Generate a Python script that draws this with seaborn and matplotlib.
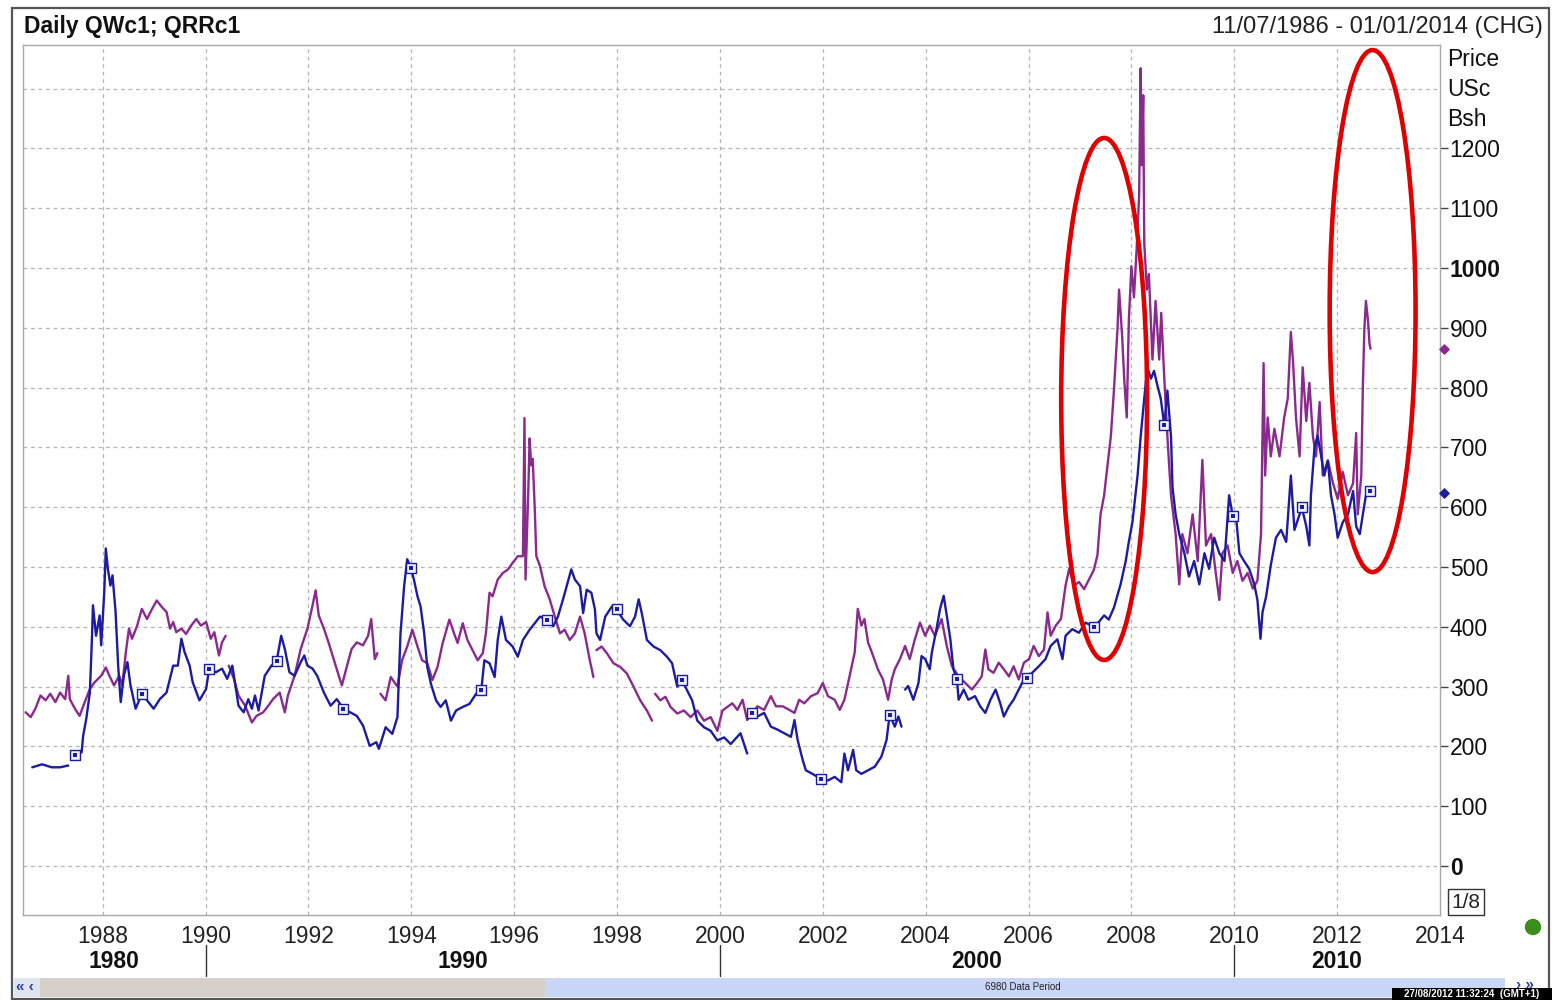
import matplotlib

matplotlib.use("Agg")

import matplotlib.pyplot as plt
import numpy as np
import pandas as pd
import seaborn as sns
from matplotlib.patches import Ellipse, Rectangle
from matplotlib.transforms import blended_transform_factory

# --- data (decimal years, US cents per bushel); None marks a gap
wheat_year = [
    1986.50, 1986.60, 1986.69, 1986.79, 1986.89, 1986.98, 1987.08, 1987.17, 1987.27, 1987.33,
    1987.36, 1987.46, 1987.55, 1987.65, 1987.75, 1987.84, 1987.97, 1988.06, 1988.13, 1988.22,
    1988.32, 1988.38, 1988.45, 1988.51, 1988.57, 1988.67, 1988.76, 1988.86, 1988.96, 1989.05,
    1989.15, 1989.24, 1989.31, 1989.37, 1989.43, 1989.53, 1989.62, 1989.72, 1989.82, 1989.91,
    1990.01, 1990.10, 1990.17, 1990.26, 1990.32, 1990.39, None, 1990.45, 1990.55, 1990.64,
    1990.77, 1990.90, 1990.99, 1991.12, 1991.22, 1991.31, 1991.44, 1991.54, 1991.60, 1991.73,
    1991.85, 1991.98, 1992.08, 1992.14, 1992.20, 1992.30, 1992.39, 1992.49, 1992.59, 1992.65,
    1992.75, 1992.84, 1992.94, 1993.06, 1993.16, 1993.22, 1993.29, 1993.34, None, 1993.40,
    1993.50, 1993.60, 1993.73, 1993.82, 1993.92, 1994.02, 1994.12, 1994.21, 1994.31, 1994.41,
    1994.51, 1994.61, 1994.74, 1994.83, 1994.90, 1995.00, 1995.09, 1995.19, 1995.29, 1995.39,
    1995.45, 1995.52, 1995.58, 1995.68, 1995.78, 1995.88, 1995.97, 1996.07, 1996.17, 1996.20,
    1996.22, 1996.27, 1996.30, 1996.33, 1996.36, 1996.40, 1996.43, 1996.50, 1996.59, 1996.69,
    1996.79, 1996.89, 1996.98, 1997.08, 1997.18, 1997.28, 1997.37, 1997.47, 1997.54, None,
    1997.60, 1997.70, 1997.80, 1997.93, 1998.06, 1998.19, 1998.32, 1998.45, 1998.58, 1998.68,
    None, 1998.74, 1998.84, 1998.94, 1999.04, 1999.17, 1999.30, 1999.43, 1999.56, 1999.69,
    1999.82, 1999.95, 2000.05, 2000.24, 2000.34, 2000.44, 2000.53, 2000.63, 2000.73, 2000.86,
    2000.99, 2001.09, 2001.22, 2001.35, 2001.45, 2001.54, 2001.64, 2001.77, 2001.90, 2002.00,
    2002.10, 2002.23, 2002.33, 2002.42, 2002.52, 2002.62, 2002.68, 2002.75, 2002.81, 2002.88,
    2002.98, 2003.07, 2003.17, 2003.27, 2003.34, 2003.40, 2003.50, 2003.60, 2003.69, 2003.79,
    2003.89, 2003.99, 2004.08, 2004.18, 2004.31, 2004.41, 2004.51, 2004.64, 2004.77, 2004.90,
    2005.00, 2005.09, 2005.16, 2005.22, 2005.32, 2005.42, 2005.52, 2005.62, 2005.71, 2005.81,
    2005.91, 2006.01, 2006.10, 2006.20, 2006.30, 2006.37, 2006.43, 2006.53, 2006.63, 2006.72,
    2006.79, 2006.89, 2006.98, 2007.08, 2007.18, 2007.27, 2007.34, 2007.40, 2007.47, 2007.53,
    2007.60, 2007.66, 2007.73, 2007.76, 2007.82, 2007.86, 2007.91, 2007.95, 2008.00, 2008.05,
    2008.10, 2008.15, 2008.18, 2008.20, 2008.23, 2008.25, 2008.30, 2008.34, 2008.41, 2008.47,
    2008.54, 2008.58, 2008.64, 2008.70, 2008.77, 2008.86, 2008.93, 2008.99, 2009.09, 2009.19,
    2009.29, 2009.38, 2009.45, 2009.55, 2009.64, 2009.71, 2009.77, 2009.87, 2009.97, 2010.06,
    2010.16, 2010.26, 2010.36, 2010.45, 2010.52, 2010.57, 2010.60, 2010.65, 2010.71, 2010.78,
    2010.88, 2010.97, 2011.04, 2011.10, 2011.14, 2011.20, 2011.27, 2011.33, 2011.40, 2011.46,
    2011.53, 2011.59, 2011.66, 2011.72, 2011.82, 2011.92, 2012.01, 2012.11, 2012.21, 2012.31,
    2012.37, 2012.40, 2012.47, 2012.50, 2012.53, 2012.56, 2012.60, 2012.63, 2012.65,
]
wheat_price = [
    257, 249, 263, 285, 277, 288, 274, 290, 279, 318,
    279, 263, 251, 274, 296, 307, 318, 332, 318, 302,
    318, 302, 358, 397, 380, 402, 430, 413, 430, 444,
    433, 425, 397, 408, 391, 397, 388, 402, 413, 402,
    408, 380, 391, 352, 374, 385, None, 335, 313, 285,
    268, 240, 251, 257, 268, 279, 290, 257, 285, 318,
    363, 397, 436, 461, 419, 397, 374, 346, 318, 302,
    335, 363, 374, 369, 385, 413, 346, 356, None, 288,
    277, 316, 300, 344, 367, 395, 367, 344, 339, 311,
    333, 373, 412, 389, 373, 406, 378, 361, 344, 356,
    389, 457, 451, 479, 490, 496, 507, 518, 518, 749,
    479, 614, 715, 670, 681, 597, 518, 502, 468, 446,
    417, 389, 395, 378, 389, 417, 389, 344, 316, None,
    361, 367, 356, 339, 333, 322, 300, 277, 260, 243,
    None, 288, 277, 283, 266, 255, 260, 249, 260, 243,
    249, 226, 260, 272, 261, 278, 244, 256, 267, 261,
    284, 267, 267, 261, 256, 278, 272, 284, 289, 306,
    284, 278, 261, 278, 317, 357, 430, 402, 413, 374,
    351, 329, 312, 278, 312, 329, 346, 368, 346, 379,
    407, 385, 402, 385, 413, 368, 334, 317, 306, 295,
    306, 317, 362, 329, 323, 340, 329, 317, 334, 312,
    340, 346, 368, 351, 362, 424, 385, 402, 413, 469,
    497, 469, 475, 463, 480, 495, 520, 588, 620, 666,
    718, 795, 899, 964, 886, 815, 750, 912, 1003, 951,
    1029, 1120, 1334, 1172, 1289, 1042, 964, 990, 847, 945,
    847, 925, 815, 718, 620, 555, 471, 555, 523, 588,
    510, 679, 536, 555, 490, 445, 523, 536, 490, 510,
    477, 490, 464, 477, 555, 841, 653, 750, 685, 731,
    685, 750, 782, 893, 847, 750, 685, 834, 744, 808,
    718, 685, 776, 653, 678, 640, 614, 659, 620, 640,
    724, 588, 653, 802, 899, 945, 912, 873, 865,
]

rice_year = [
    1986.63, 1986.82, 1987.01, 1987.17, 1987.33, None, 1987.46, 1987.59, 1987.62, 1987.68,
    1987.75, 1987.79, 1987.81, 1987.87, 1987.94, 1987.97, 1988.03, 1988.06, 1988.10, 1988.15,
    1988.19, 1988.25, 1988.30, 1988.35, 1988.41, 1988.48, 1988.54, 1988.64, 1988.76, 1988.86,
    1988.99, 1989.11, 1989.24, 1989.37, 1989.46, 1989.53, 1989.59, 1989.69, 1989.75, 1989.88,
    1990.01, 1990.07, 1990.20, 1990.32, 1990.42, 1990.52, 1990.64, 1990.74, 1990.83, 1990.90,
    1990.96, 1991.03, 1991.15, 1991.28, 1991.38, 1991.47, 1991.54, 1991.63, 1991.73, 1991.85,
    1991.92, 1991.98, 1992.08, 1992.17, 1992.30, 1992.43, 1992.55, 1992.68, 1992.81, 1992.94,
    1993.06, 1993.19, 1993.32, 1993.37, 1993.50, 1993.63, 1993.73, 1993.79, 1993.86, 1993.92,
    1993.99, 1994.05, 1994.12, 1994.18, 1994.25, 1994.31, 1994.38, 1994.48, 1994.57, 1994.67,
    1994.77, 1994.87, 1995.00, 1995.13, 1995.26, 1995.36, 1995.42, 1995.52, 1995.62, 1995.68,
    1995.75, 1995.84, 1995.97, 1996.07, 1996.17, 1996.30, 1996.40, 1996.50, 1996.63, 1996.76,
    1996.85, 1996.95, 1997.02, 1997.11, 1997.18, 1997.28, 1997.34, 1997.41, 1997.50, 1997.57,
    1997.60, 1997.67, 1997.77, 1997.90, 1997.99, 1998.12, 1998.25, 1998.35, 1998.42, 1998.48,
    1998.58, 1998.71, 1998.84, 1998.97, 1999.07, 1999.17, 1999.26, 1999.36, 1999.46, 1999.56,
    1999.69, 1999.82, 1999.95, 2000.08, 2000.21, 2000.40, 2000.53, None, 2000.57, 2000.63,
    2000.73, 2000.86, 2000.99, 2001.12, 2001.25, 2001.38, 2001.45, 2001.51, 2001.61, 2001.67,
    2001.80, 2001.90, 2001.97, 2002.10, 2002.23, 2002.36, 2002.42, 2002.49, 2002.59, 2002.65,
    2002.75, 2002.88, 2003.01, 2003.14, 2003.24, 2003.30, 2003.40, 2003.47, 2003.53, None,
    2003.60, 2003.66, 2003.76, 2003.86, 2003.92, 2003.99, 2004.08, 2004.12, 2004.21, 2004.28,
    2004.35, 2004.41, 2004.48, 2004.54, 2004.61, 2004.64, 2004.74, 2004.83, 2004.96, 2005.06,
    2005.16, 2005.26, 2005.36, 2005.45, 2005.52, 2005.62, 2005.71, 2005.81, 2005.91, 2005.97,
    2006.07, 2006.20, 2006.33, 2006.43, 2006.56, 2006.66, 2006.72, 2006.85, 2006.98, 2007.11,
    2007.28, 2007.47, 2007.56, 2007.66, 2007.79, 2007.89, 2007.95, 2008.02, 2008.12, 2008.18,
    2008.25, 2008.31, 2008.38, 2008.44, 2008.51, 2008.57, 2008.64, 2008.70, 2008.77, 2008.80,
    2008.86, 2008.93, 2009.03, 2009.12, 2009.22, 2009.32, 2009.42, 2009.51, 2009.61, 2009.71,
    2009.81, 2009.90, 2009.97, 2010.03, 2010.10, 2010.19, 2010.29, 2010.39, 2010.45, 2010.51,
    2010.55, 2010.62, 2010.71, 2010.81, 2010.91, 2011.01, 2011.10, 2011.17, 2011.27, 2011.31,
    2011.40, 2011.46, 2011.49, 2011.56, 2011.62, 2011.69, 2011.75, 2011.82, 2011.88, 2011.95,
    2012.01, 2012.11, 2012.21, 2012.31, 2012.37, 2012.44, 2012.50, 2012.56, 2012.63, 2012.65,
]
rice_price = [
    165, 170, 165, 165, 168, None, 185, 190, 218, 246,
    290, 380, 436, 385, 419, 369, 458, 531, 497, 469,
    486, 425, 335, 274, 318, 341, 302, 263, 288, 277,
    263, 279, 290, 335, 335, 380, 358, 335, 307, 277,
    296, 330, 324, 330, 313, 335, 268, 257, 279, 263,
    285, 260, 318, 335, 342, 385, 363, 324, 318, 341,
    352, 335, 330, 318, 290, 268, 279, 263, 257, 251,
    235, 201, 207, 196, 232, 221, 249, 389, 468, 513,
    499, 479, 451, 434, 389, 333, 305, 277, 266, 277,
    243, 260, 266, 271, 288, 294, 344, 339, 316, 378,
    417, 378, 367, 350, 378, 395, 406, 417, 412, 401,
    417, 446, 468, 496, 479, 468, 423, 462, 457, 429,
    389, 378, 417, 434, 429, 412, 401, 417, 446, 423,
    378, 367, 361, 350, 339, 300, 311, 294, 277, 243,
    232, 226, 210, 215, 204, 222, 188, None, 250, 256,
    250, 256, 233, 228, 222, 216, 244, 211, 177, 160,
    154, 149, 146, 143, 149, 140, 188, 160, 194, 160,
    154, 160, 166, 183, 211, 253, 233, 250, 233, None,
    295, 301, 278, 306, 351, 346, 329, 357, 396, 430,
    452, 419, 379, 329, 312, 278, 295, 278, 284, 267,
    256, 278, 295, 272, 250, 267, 278, 295, 312, 315,
    323, 334, 346, 368, 379, 346, 385, 396, 390, 407,
    399, 419, 412, 432, 471, 510, 542, 575, 653, 718,
    782, 834, 815, 828, 802, 782, 737, 795, 718, 633,
    588, 555, 523, 484, 510, 471, 523, 497, 549, 523,
    510, 620, 585, 588, 523, 510, 497, 471, 445, 380,
    425, 451, 503, 549, 562, 542, 653, 562, 588, 601,
    568, 536, 620, 700, 720, 685, 653, 678, 620, 588,
    549, 575, 588, 627, 568, 555, 588, 620, 627, 624,
]

# years where the rice line carries its small square markers
rice_marker_years = [
    1987.46, 1988.76, 1990.07, 1991.38, 1992.68, 1993.99, 1995.36, 1996.63, 1997.99, 1999.26,
    2000.63, 2001.97, 2003.30, 2004.61, 2005.97, 2007.28, 2008.64, 2009.97, 2011.31, 2012.63,
]

year_ticks = list(range(1988, 2016, 2))
price_ticks = list(range(0, 1300, 100))
decades = [1980, 1990, 2000, 2010]

WHEAT = "#8a2a8e"
RICE = "#1c1ca0"
GRID = "#b4b4b4"


def to_frame(years, prices):
    df = pd.DataFrame({"year": years, "price": prices}, dtype="float")
    df["seg"] = df["price"].isna().cumsum()
    return df.dropna().reset_index(drop=True)


wheat = to_frame(wheat_year, wheat_price)
rice = to_frame(rice_year, rice_price)

sns.set_style("white")
plt.rcParams["font.family"] = ["Liberation Sans", "DejaVu Sans"]

W, H = 1552, 1000
fig = plt.figure(figsize=(W / 100, H / 100), dpi=100)
ax = fig.add_axes([23 / W, 1 - 915 / H, (1440 - 23) / W, (915 - 45) / H])

x0, x1 = 1986.45, 2014.0
ax.set_xlim(x0, x1)
ax.set_ylim(-82, 1373)

for v in range(0, 1400, 100):
    ax.axhline(v, color=GRID, lw=0.9, ls=(0, (3, 3)), zorder=0)
for yr in year_ticks[:-1]:
    ax.axvline(yr, color=GRID, lw=0.9, ls=(0, (3, 3)), zorder=0)

sns.lineplot(data=wheat, x="year", y="price", units="seg", estimator=None, sort=False,
             color=WHEAT, lw=1.7, ax=ax, legend=False)
sns.lineplot(data=rice, x="year", y="price", units="seg", estimator=None, sort=False,
             color=RICE, lw=1.7, ax=ax, legend=False)

idx = [int(np.argmin(np.abs(rice["year"].to_numpy() - m))) for m in rice_marker_years]
marks = rice.iloc[idx]
sns.scatterplot(data=marks, x="year", y="price", marker="s", s=55, color="#eef0ff",
                edgecolor=RICE, linewidth=1.0, ax=ax, zorder=4, legend=False)
sns.scatterplot(data=marks, x="year", y="price", marker="s", s=5, color=RICE,
                edgecolor=RICE, linewidth=0, ax=ax, zorder=5, legend=False)

# last-value diamonds just outside the right edge
edge = blended_transform_factory(ax.transAxes, ax.transData)
ax.scatter([1.003], [wheat["price"].iloc[-1]], marker="D", s=22, color=WHEAT,
           transform=edge, clip_on=False, zorder=6)
ax.scatter([1.003], [rice["price"].iloc[-1]], marker="D", s=22, color=RICE,
           transform=edge, clip_on=False, zorder=6)

# red hand-drawn style ellipses
for cx, cy in [(2007.47, 781), (2012.69, 928)]:
    ax.add_patch(Ellipse((cx, cy), width=1.67, height=873, fill=False,
                         edgecolor="#e10000", lw=3.3, zorder=7))

ax.set_xlabel("")
ax.set_ylabel("")
ax.set_xticks(year_ticks, [str(y) for y in year_ticks])
ax.set_yticks(price_ticks, [str(v) for v in price_ticks])
ax.yaxis.tick_right()
ax.tick_params(axis="x", length=0, pad=7, labelsize=16.5, labelcolor="#222")
ax.tick_params(axis="y", right=True, left=False, length=6, width=1.0, color="#444",
               pad=1, labelsize=16.5, labelcolor="#111")
for lbl in ax.get_yticklabels():
    if lbl.get_text() in ("1000", "0"):
        lbl.set_fontweight("bold")
for s in ax.spines.values():
    s.set_color("#a8a8a8")
    s.set_linewidth(1.0)

for i, txt in enumerate(["Price", "USc", "Bsh"]):
    fig.text(1447 / W, 1 - (60 + 29.5 * i) / H, txt, fontsize=16.5, va="center", ha="left",
             color="#111")

# decade row under the year ticks
below = blended_transform_factory(ax.transData, ax.transAxes)
for d in decades:
    lo, hi = max(d, x0), min(d + 10, x1)
    ax.text((lo + hi) / 2, -(961 - 915) / 870, str(d), transform=below, ha="center",
            va="center", fontsize=16.5, fontweight="bold", color="#111", clip_on=False)
    if d > x0:
        ax.plot([d, d], [-(945 - 915) / 870, -(976 - 915) / 870], transform=below,
                color="#333", lw=1.0, clip_on=False)

# header
fig.text(24 / W, 1 - 27 / H, "Daily QWc1; QRRc1", fontsize=16.5, fontweight="bold",
         va="center", ha="left", color="#111")
fig.text(1543 / W, 1 - 27 / H, "11/07/1986 - 01/01/2014 (CHG)", fontsize=17,
         va="center", ha="right", color="#222")

# outer panel frame
fig.add_artist(Rectangle((12 / W, 1 - 999 / H), (1549 - 12) / W, (999 - 8) / H,
                         transform=fig.transFigure, fill=False, edgecolor="#555", lw=1.6))

# "1/8" box and status dot
fig.text(1466 / W, 1 - 902 / H, "1/8", fontsize=15, ha="center", va="center", color="#222",
         bbox=dict(boxstyle="square,pad=0.15", fc="white", ec="#333", lw=1))
fig.add_artist(Ellipse((1533 / W, 1 - 927 / H), 15 / W, 15 / H, transform=fig.transFigure,
                       color="#3c8c1e"))

# scroll bar strip
fig.add_artist(Rectangle((14 / W, 1 - 997 / H), (1505 - 14) / W, 19 / H,
                         transform=fig.transFigure, fc="#dfe4ef", ec="none"))
fig.add_artist(Rectangle((40 / W, 1 - 997 / H), (545 - 40) / W, 19 / H,
                         transform=fig.transFigure, fc="#d5d1c8", ec="none"))
fig.add_artist(Rectangle((545 / W, 1 - 997 / H), (1505 - 545) / W, 19 / H,
                         transform=fig.transFigure, fc="#c9d6f7", ec="none"))
fig.text(25 / W, 1 - 987 / H, "« ‹", fontsize=11, fontweight="bold", color="#2a3fa0",
         ha="center", va="center")
fig.text(1525 / W, 1 - 985 / H, "› »", fontsize=11, fontweight="bold", color="#2a3fa0",
         ha="center", va="center")
fig.text(1023 / W, 1 - 987 / H, "6980 Data Period", fontsize=7, color="#222",
         ha="center", va="center")
fig.add_artist(Rectangle((1392 / W, 0), (W - 1392) / W, 12 / H,
                         transform=fig.transFigure, fc="black", ec="none"))
fig.text(1472 / W, 6 / H, "27/08/2012 11:32:24  (GMT+1)", fontsize=7, fontweight="bold",
         color="white", ha="center", va="center")

fig.savefig("out.png", dpi=100)
